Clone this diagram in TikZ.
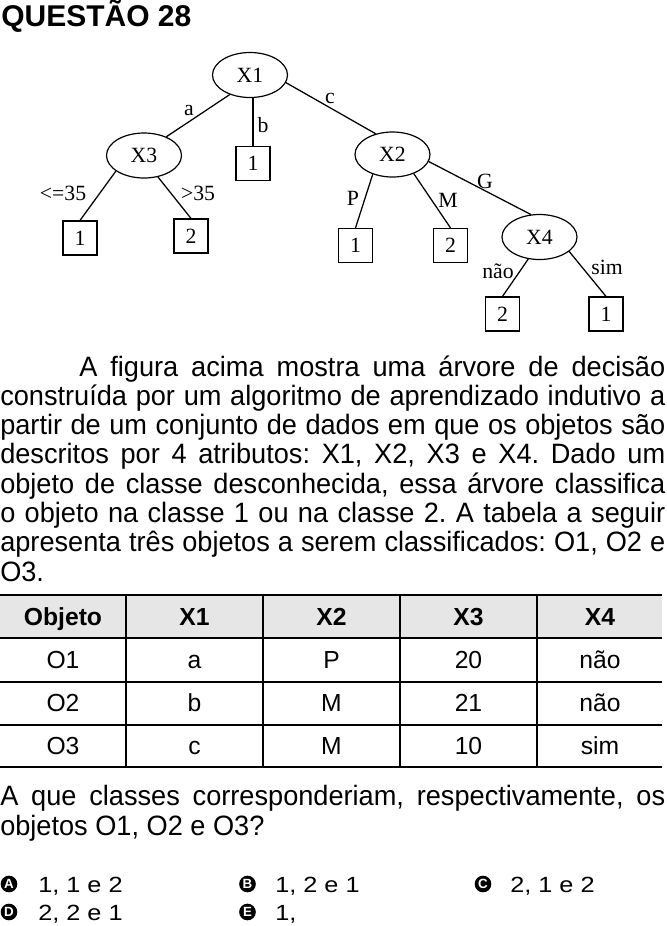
\documentclass[tikz,border=0pt]{standalone}
\usepackage{fontspec}
\setmainfont{Liberation Sans}
\newfontfamily\bodyfont[FakeStretch=0.97]{Liberation Sans}
\newfontfamily\treefont{Liberation Serif}
\newfontfamily\optfont[FakeStretch=1.15]{Liberation Sans}
\usetikzlibrary{shapes.geometric}
\definecolor{headgray}{RGB}{230,230,230}
\tikzset{
  dec/.style={ellipse, draw, line width=0.9pt, minimum width=56.25pt, minimum height=33.75pt, inner sep=0pt, font=\treefont\fontsize{16.3pt}{18pt}\selectfont},
  leaf/.style={rectangle, draw, line width=0.9pt, minimum width=25.5pt, minimum height=25.5pt, inner sep=0pt, font=\treefont\fontsize{16.3pt}{18pt}\selectfont},
  lbl/.style={inner sep=0pt, font=\treefont\fontsize{16.3pt}{18pt}\selectfont},
  branch/.style={line width=0.95pt},
  txt/.style={anchor=base west, inner sep=0pt, font=\bodyfont\fontsize{21pt}{24pt}\selectfont},
  ttl/.style={anchor=base west, inner sep=0pt, font=\bfseries\fontsize{22.5pt}{26pt}\selectfont},
  cell/.style={anchor=base, inner sep=0pt, font=\fontsize{18.5pt}{20pt}\selectfont},
  hcell/.style={cell, font=\bfseries\fontsize{18.5pt}{20pt}\selectfont},
  rule/.style={line width=1.9pt},
  vrule/.style={line width=1.5pt},
  optmark/.style={circle, fill=black, text=white, minimum size=12.5pt, inner sep=0pt, font=\bfseries\fontsize{10pt}{11pt}\selectfont},
  opttxt/.style={anchor=base west, inner sep=0pt, font=\optfont\fontsize{16.5pt}{18pt}\selectfont}
}
\begin{document}
\frenchspacing
\begin{tikzpicture}[x=0.75pt, y=-0.75pt]
\useasboundingbox (0,0) rectangle (667,926);

% title
\node[ttl] (title) at (1,26) {QUESTÃO 28};

% tree nodes
\node[dec] (X1) at (250,75) {X1};
\node[dec] (X3) at (144,155.5) {X3};
\node[leaf] (b1) at (253,163.5) {1};
\node[dec] (X2) at (392.5,154.5) {X2};
\node[leaf] (L1) at (80,238) {1};
\node[leaf] (L2) at (191,236) {2};
\node[leaf] (P1) at (355.5,245.5) {1};
\node[leaf] (M2) at (450.5,245.5) {2};
\node[dec] (X4) at (539.5,237) {X4};
\node[leaf] (N2) at (502.5,314) {2};
\node[leaf] (S1) at (606,314) {1};

% branches
\draw[branch] (X1.224) -- (X3.40);
\draw[branch] (b1.north) -- (b1.north |- X1.south);
\draw[branch] (X1.348) -- (X2.129);
\draw[branch] (X3.209) -- (L1.north);
\draw[branch] (X3.303) -- (L2.north);
\draw[branch] (X2.225) -- (P1.north);
\draw[branch] (X2.318) -- (M2.north);
\draw[branch] (X2.349) -- (X4.111);
\draw[branch] (X4.243) -- (N2.north);
\draw[branch] (X4.334) -- (S1.north);

% branch labels
\node[lbl] (la) at (189,110) {a};
\node[lbl] (lb) at (263,125) {b};
\node[lbl] (lc) at (330,98) {c};
\node[lbl] (lle) at (63,193) {<=35};
\node[lbl] (lgt) at (198,193) {>35};
\node[lbl] (lP) at (353,198) {P};
\node[lbl] (lM) at (448,200) {M};
\node[lbl] (lG) at (485,181) {G};
\node[lbl] (lnao) at (498,271) {não};
\node[lbl] (lsim) at (607,267) {sim};

% paragraph
\node[txt] (p1) at (79,376) {\makebox[439.5pt][s]{A figura acima mostra uma árvore de decisão}};
\node[txt] (p2) at (0,405.3) {\makebox[498.75pt][s]{construída por um algoritmo de aprendizado indutivo a}};
\node[txt] (p3) at (0,434.6) {\makebox[498.75pt][s]{partir de um conjunto de dados em que os objetos são}};
\node[txt] (p4) at (0,463.9) {\makebox[498.75pt][s]{descritos por 4 atributos: X1, X2, X3 e X4. Dado um}};
\node[txt] (p5) at (0,493.2) {\makebox[498.75pt][s]{objeto de classe desconhecida, essa árvore classifica}};
\node[txt] (p6) at (0,522.5) {\makebox[498.75pt][s]{o objeto na classe 1 ou na classe 2. A tabela a seguir}};
\node[txt] (p7) at (0,551.8) {\makebox[498.75pt][s]{apresenta três objetos a serem classificados: O1, O2 e}};
\node[txt] (p8) at (0,581.1) {O3.};

% table
\fill[headgray] (0,595) rectangle (662,638);
\draw[rule] (0,595) -- (662,595);
\draw[vrule] (0,638) -- (662,638);
\draw[vrule] (0,682) -- (662,682);
\draw[vrule] (0,725) -- (662,725);
\draw[rule] (0,767) -- (662,767);
\foreach \xx in {126,263,400,537} { \draw[vrule] (\xx,595) -- (\xx,767); }

\node[hcell] (h0) at (63,625) {Objeto};
\node[hcell] (h1) at (194.5,625) {X1};
\node[hcell] (h2) at (331.5,625) {X2};
\node[hcell] (h3) at (468.5,625) {X3};
\node[hcell] (h4) at (600,625) {X4};

\node[cell] (r10) at (63,668) {O1};
\node[cell] (r11) at (194.5,668) {a};
\node[cell] (r12) at (331.5,668) {P};
\node[cell] (r13) at (468.5,668) {20};
\node[cell] (r14) at (600,668) {não};

\node[cell] (r20) at (63,711.5) {O2};
\node[cell] (r21) at (194.5,711.5) {b};
\node[cell] (r22) at (331.5,711.5) {M};
\node[cell] (r23) at (468.5,711.5) {21};
\node[cell] (r24) at (600,711.5) {não};

\node[cell] (r30) at (63,754.5) {O3};
\node[cell] (r31) at (194.5,754.5) {c};
\node[cell] (r32) at (331.5,754.5) {M};
\node[cell] (r33) at (468.5,754.5) {10};
\node[cell] (r34) at (600,754.5) {sim};

% question
\node[txt] (q1) at (0,805) {\makebox[498.75pt][s]{A que classes corresponderiam, respectivamente, os}};
\node[txt] (q2) at (0,835) {objetos O1, O2 e O3?};

% options
\node[optmark] (oA) at (9,884) {A};
\node[opttxt] (tA) at (38,892) {1, 1 e 2};
\node[optmark] (oB) at (247.5,884) {B};
\node[opttxt] (tB) at (275,892) {1, 2 e 1};
\node[optmark] (oC) at (483,884) {C};
\node[opttxt] (tC) at (510,892) {2, 1 e 2};
\node[optmark] (oD) at (9,912) {D};
\node[opttxt] (tD) at (38,920) {2, 2 e 1};
\node[optmark] (oE) at (247.5,912) {E};
\node[opttxt] (tE) at (275,920) {1,};
\end{tikzpicture}
\end{document}
